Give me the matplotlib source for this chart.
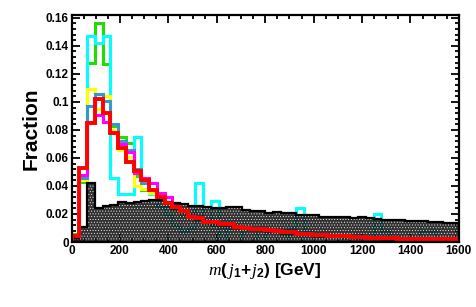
import numpy as np
import matplotlib
matplotlib.use("Agg")
import matplotlib.pyplot as plt
from matplotlib.ticker import MultipleLocator, FixedLocator, FixedFormatter

# ---------------- data (fractions per 32 GeV bin, 0-1600 GeV) ----------------
bin_width = 32
black = [0.003, 0.011, 0.042, 0.024, 0.0257, 0.0264, 0.0288, 0.0276, 0.0288, 0.0295,
         0.030, 0.030, 0.0288, 0.028, 0.027, 0.0257, 0.026, 0.025, 0.0245, 0.024,
         0.025, 0.025, 0.0225, 0.0222, 0.022, 0.021, 0.0215, 0.021, 0.0205, 0.0195,
         0.0192, 0.019, 0.018, 0.0182, 0.0178, 0.0175, 0.017, 0.0175, 0.017, 0.0165,
         0.016, 0.016, 0.0155, 0.015, 0.0152, 0.0148, 0.014, 0.014, 0.0135, 0.0135]
cyan = [0.0, 0.045, 0.147, 0.142, 0.147, 0.046, 0.034, 0.034, 0.075, 0.045,
        0.034, 0.025, 0.020, 0.012, 0.008, 0.010, 0.042, 0.015, 0.029, 0.0,
        0.010, 0.010, 0.0, 0.0, 0.010, 0.0, 0.0, 0.0, 0.010, 0.024,
        0.008, 0.0, 0.0, 0.0, 0.0, 0.0, 0.0, 0.0, 0.0, 0.0198,
        0.008, 0.0, 0.0, 0.0, 0.0, 0.008, 0.008, 0.0, 0.0, 0.0]
green = [0.006, 0.043, 0.128, 0.156, 0.127, 0.083, 0.075, 0.071, 0.047, 0.037,
         0.034, 0.030, 0.026, 0.023, 0.019, 0.017, 0.015, 0.013, 0.012, 0.011,
         0.011, 0.010, 0.009, 0.009, 0.008, 0.007, 0.007, 0.006, 0.006, 0.005,
         0.005, 0.005, 0.004, 0.004, 0.004, 0.003, 0.003, 0.003, 0.003, 0.003,
         0.002, 0.002, 0.002, 0.002, 0.002, 0.002, 0.002, 0.001, 0.001, 0.001]
yellow = [0.003, 0.044, 0.109, 0.095, 0.104, 0.080, 0.066, 0.061, 0.040, 0.038,
          0.035, 0.031, 0.027, 0.024, 0.020, 0.018, 0.016, 0.014, 0.013, 0.012,
          0.011, 0.010, 0.010, 0.009, 0.008, 0.008, 0.007, 0.007, 0.006, 0.006,
          0.005, 0.005, 0.005, 0.004, 0.004, 0.004, 0.003, 0.003, 0.003, 0.003,
          0.003, 0.002, 0.002, 0.002, 0.002, 0.003, 0.0, 0.002, 0.001, 0.001]
blue = [0.002, 0.046, 0.097, 0.106, 0.101, 0.084, 0.072, 0.066, 0.052, 0.042,
        0.037, 0.032, 0.028, 0.024, 0.021, 0.018, 0.016, 0.015, 0.013, 0.012,
        0.011, 0.011, 0.010, 0.009, 0.009, 0.008, 0.007, 0.007, 0.006, 0.006,
        0.005, 0.005, 0.005, 0.004, 0.004, 0.004, 0.004, 0.003, 0.003, 0.003,
        0.003, 0.002, 0.002, 0.002, 0.002, 0.002, 0.002, 0.002, 0.001, 0.001]
magenta = [0.002, 0.048, 0.086, 0.091, 0.086, 0.078, 0.070, 0.064, 0.049, 0.046,
           0.042, 0.035, 0.032, 0.027, 0.023, 0.020, 0.018, 0.016, 0.014, 0.013,
           0.012, 0.011, 0.010, 0.010, 0.009, 0.008, 0.008, 0.007, 0.007, 0.006,
           0.006, 0.005, 0.005, 0.005, 0.004, 0.004, 0.004, 0.003, 0.003, 0.003,
           0.003, 0.003, 0.002, 0.002, 0.002, 0.002, 0.002, 0.002, 0.002, 0.001]
red = [0.004, 0.053, 0.085, 0.102, 0.092, 0.078, 0.067, 0.057, 0.051, 0.044,
       0.037, 0.032, 0.028, 0.025, 0.022, 0.018, 0.017, 0.0145, 0.014, 0.013,
       0.0125, 0.0105, 0.010, 0.0095, 0.009, 0.0085, 0.0078, 0.0073, 0.0068, 0.006,
       0.0057, 0.0053, 0.0048, 0.0045, 0.0042, 0.004, 0.0036, 0.0034, 0.0032, 0.0031,
       0.0028, 0.0027, 0.0025, 0.0024, 0.0023, 0.0021, 0.002, 0.0019, 0.0018, 0.0018]

xtick_values = [0, 200, 400, 600, 800, 1000, 1200, 1400, 1600]
xtick_labels = ['0', '200', '400', '600', '800', '1000', '1200', '1400', '1600']
ytick_values = [0, 0.02, 0.04, 0.06, 0.08, 0.10, 0.12, 0.14, 0.16]
ytick_labels = ['0', '0.02', '0.04', '0.06', '0.08', '0.1', '0.12', '0.14', '0.16']

# ---------------- plotting ----------------
plt.rcParams['mathtext.fontset'] = 'custom'
plt.rcParams['mathtext.rm'] = 'Liberation Sans:bold'
plt.rcParams['mathtext.it'] = 'Liberation Serif:italic'
plt.rcParams['mathtext.bf'] = 'Liberation Sans:bold'
plt.rcParams['hatch.linewidth'] = 0.35

fig = plt.figure(figsize=(4.77, 3.07), dpi=100)
ax = fig.add_axes([0.150, 0.2117, 0.812, 0.7393])

n = len(red)
edges = np.arange(n + 1) * bin_width

lw = 2.2
ax.stairs(green, edges, color='#22dd00', lw=lw, zorder=2)
ax.stairs(cyan, edges, color='#00ffff', lw=lw, zorder=2.1)
ax.stairs(yellow, edges, color='#ffff00', lw=lw, zorder=2.2)
ax.stairs(blue, edges, color='#3399cc', lw=lw, zorder=2.3)
ax.stairs(magenta, edges, color='#ff00ff', lw=lw, zorder=2.4)

# black filled histogram with dotted pattern
ax.stairs(black, edges, fill=True, facecolor=(0.05, 0.05, 0.05, 0.85), edgecolor='white',
          hatch='......', linewidth=0, zorder=3)
ax.stairs(black, edges, color='black', lw=1.6, zorder=3.1)

ax.stairs(red, edges, color='#ff0000', lw=2.8, zorder=4)

ax.set_xlim(0, 1600)
ax.set_ylim(0, 0.162)

ax.xaxis.set_major_locator(FixedLocator(xtick_values))
ax.xaxis.set_major_formatter(FixedFormatter(xtick_labels))
ax.yaxis.set_major_locator(FixedLocator(ytick_values))
ax.yaxis.set_major_formatter(FixedFormatter(ytick_labels))
ax.xaxis.set_minor_locator(MultipleLocator(50))
ax.yaxis.set_minor_locator(MultipleLocator(0.004))

ax.tick_params(which='both', direction='in', top=True, right=True, width=1.3)
ax.tick_params(which='major', length=6, pad=2)
ax.tick_params(which='minor', length=3)
for lab in ax.get_xticklabels() + ax.get_yticklabels():
    lab.set_fontfamily('Liberation Sans')
    lab.set_fontweight('bold')
    lab.set_fontsize(8.5)
for s in ax.spines.values():
    s.set_linewidth(1.6)
    s.set_zorder(5)

ax.set_ylabel('Fraction', fontfamily='Liberation Sans', fontweight='bold',
              fontsize=15, labelpad=4)
ax.set_xlabel(r'$m(\,j_{1}\!+\!j_{2})$ [GeV]', fontfamily='Liberation Sans',
              fontweight='bold', fontsize=12.5, labelpad=3)
ax.xaxis.set_label_coords(0.5, -0.085)

fig.savefig('out.png', dpi=100)
